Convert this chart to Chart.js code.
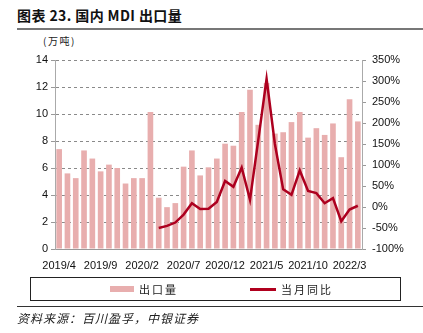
<!DOCTYPE html>
<html>
<head>
<meta charset="utf-8">
<script src="https://cdn.jsdelivr.net/npm/chart.js@4"></script>
<style>
    body { margin: 0; background: #fff; font-family: "Liberation Sans", Arial, sans-serif; }
    #wrap { position: relative; width: 423px; height: 333px; overflow: hidden; }
    #chart { position: absolute; left: 0; top: 0; }
    .title { position: absolute; left: 17px; top: 5px; font: bold 14px "Noto Sans CJK SC", sans-serif; color: #111; letter-spacing: 0.4px; }
    .rule { position: absolute; left: 17px; width: 406px; }
    .unit { position: absolute; left: 43px; top: 33px; font: 10px "Noto Sans CJK SC", sans-serif; color: #222; letter-spacing: 1.5px; }
    .legend { position: absolute; left: 30px; top: 277px; width: 369px; height: 22px; border: 1px solid #222; }
    .legend span { position: absolute; top: 3px; font: 11px "Noto Sans CJK SC", sans-serif; letter-spacing: 2px; color: #222; }
    .source { position: absolute; left: 17px; top: 309px; font: italic 12px "Noto Sans CJK SC", sans-serif; letter-spacing: 1px; color: #222; }
</style>
</head>
<body>
<div id="wrap">
    <div class="title">图表 23. 国内 MDI 出口量</div>
    <div class="rule" style="top:28px; height:2px; background:#777;"></div>
    <div class="unit">(万吨)</div>
    <canvas id="chart" width="423" height="333"></canvas>
    <div class="legend">
        <div style="position:absolute; left:79px; top:8px; width:24px; height:6px; background:#E8AEAE;"></div>
        <span style="left:108px;">出口量</span>
        <div style="position:absolute; left:219px; top:10px; width:26px; height:3px; background:#B0001E;"></div>
        <span style="left:250px;">当月同比</span>
    </div>
    <div class="rule" style="top:306px; height:1px; background:#333;"></div>
    <div class="source">资料来源：百川盈孚，中银证券</div>
</div>
<script>
// Months 2019/4 .. 2022/4
const months = [
    '2019/4', '2019/5', '2019/6', '2019/7', '2019/8', '2019/9', '2019/10', '2019/11', '2019/12',
    '2020/1', '2020/2', '2020/3', '2020/4', '2020/5', '2020/6', '2020/7', '2020/8', '2020/9',
    '2020/10', '2020/11', '2020/12', '2021/1', '2021/2', '2021/3', '2021/4', '2021/5', '2021/6',
    '2021/7', '2021/8', '2021/9', '2021/10', '2021/11', '2021/12', '2022/1', '2022/2', '2022/3', '2022/4'
];

// Export volume (万吨)
const exportVolume = [
    7.4, 5.6, 5.25, 7.3, 6.7, 5.75, 6.25, 6.0, 4.85,
    5.25, 5.25, 10.15, 3.8, 3.1, 3.4, 6.1, 7.3, 5.45,
    6.05, 6.7, 7.8, 7.65, 10.15, 11.8, 9.2, 12.3, 8.55,
    8.65, 9.4, 10.15, 8.25, 8.95, 8.45, 9.3, 6.8, 11.1, 9.45
];

// Year-on-year change (%), starts 2020/4
const yoyChange = [
    null, null, null, null, null, null, null, null, null,
    null, null, null, -50, -45, -37, -18, 9, -5,
    -4, 12, 62, 48, 94, 17, 160, 305, 150,
    42, 29, 87, 38, 33, 9, 21, -34, -6, 3
];

const leftTicks = [0, 2, 4, 6, 8, 10, 12, 14];
const rightTicks = [-100, -50, 0, 50, 100, 150, 200, 250, 300, 350];

const tickFont = { family: '"Liberation Sans", Arial, sans-serif', size: 11 };

const ctx = document.getElementById('chart').getContext('2d');
const chart = new Chart(ctx, {
    data: {
        labels: months,
        datasets: [{
            type: 'line',
            label: '当月同比',
            data: yoyChange,
            yAxisID: 'y1',
            borderColor: '#AD001F',
            borderWidth: 2.5,
            pointRadius: 0,
            tension: 0,
            spanGaps: false,
            order: 0
        }, {
            type: 'bar',
            label: '出口量',
            data: exportVolume,
            yAxisID: 'y',
            backgroundColor: '#E8AEAE',
            barPercentage: 0.68,
            categoryPercentage: 1.0,
            order: 1
        }]
    },
    options: {
        responsive: false,
        animation: false,
        layout: { padding: { top: 60, bottom: 64, left: 0, right: 0 } },
        plugins: { legend: { display: false }, tooltip: { enabled: false } },
        scales: {
            x: {
                offset: true,
                grid: { display: false },
                border: { display: true, color: '#999' },
                ticks: {
                    autoSkip: false,
                    maxRotation: 0,
                    padding: 2,
                    color: '#111',
                    font: tickFont,
                    callback: (value, index) => index % 5 === 0 ? months[index] : ''
                },
                afterFit: (scale) => { scale.height = 20; }
            },
            y: {
                position: 'left',
                min: 0,
                max: 14,
                afterBuildTicks: (scale) => { scale.ticks = leftTicks.map(v => ({ value: v })); },
                grid: { color: '#8a8a8a', tickLength: 4, tickColor: '#999', drawTicks: true, borderDash: [3, 3] },
                border: { display: true, color: '#aaa', dash: [3, 3] },
                ticks: { color: '#111', font: tickFont, padding: 3 },
                afterFit: (scale) => { scale.width = 55; }
            },
            y1: {
                position: 'right',
                min: -100,
                max: 350,
                afterBuildTicks: (scale) => { scale.ticks = rightTicks.map(v => ({ value: v })); },
                grid: { drawOnChartArea: false, tickLength: 4, tickColor: '#999' },
                border: { display: true, color: '#aaa' },
                ticks: { color: '#111', font: tickFont, padding: 6, callback: (value) => value + '%' },
                afterFit: (scale) => { scale.width = 61; }
            }
        }
    }
});
</script>
</body>
</html>
